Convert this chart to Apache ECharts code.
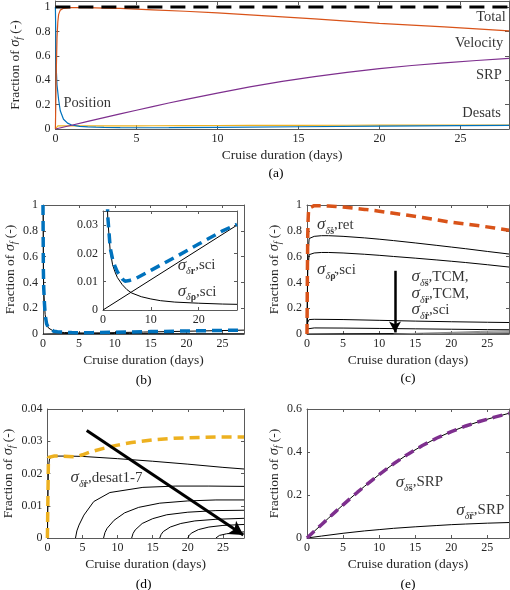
<!DOCTYPE html>
<html><head><meta charset="utf-8">
<script src="https://cdn.jsdelivr.net/npm/echarts/dist/echarts.min.js"></script>
<style>html,body{margin:0;padding:0;background:#fff}#c{width:510px;height:590px}</style>
</head><body><div id="c"></div>
<script>
// ---------- data ----------
const totX = [0, 28];
const totY = [1, 1];
const velX = [0, 0.05, 0.1, 0.15, 0.2, 0.3, 0.5, 1, 2, 3, 4, 5, 6, 8, 10, 12, 14, 16, 18, 20, 22, 24, 26, 28];
const velY = [0, 0.45, 0.75, 0.88, 0.94, 0.975, 0.99, 0.995, 0.995, 0.992, 0.989, 0.984, 0.978, 0.966, 0.952, 0.936, 0.92, 0.903, 0.885, 0.866, 0.852, 0.838, 0.822, 0.805];
const posX = [0, 0.05, 0.1, 0.2, 0.3, 0.5, 0.75, 1, 1.5, 2, 2.5, 3, 4, 4.6, 5.5, 7, 10, 15, 20, 25, 28];
const posY = [1, 0.5, 0.36, 0.24, 0.15, 0.08, 0.048, 0.033, 0.022, 0.018, 0.0155, 0.0135, 0.011, 0.0102, 0.0104, 0.0113, 0.014, 0.0186, 0.0233, 0.028, 0.0303];
const srpX = [0, 1, 2, 3, 4, 5, 6, 7, 8, 9, 10, 12, 14, 16, 18, 20, 22, 24, 26, 28];
const srpY = [0, 0.031, 0.062, 0.093, 0.124, 0.154, 0.184, 0.213, 0.241, 0.268, 0.295, 0.345, 0.39, 0.43, 0.465, 0.495, 0.521, 0.543, 0.562, 0.58];
const desX = [0, 0.15, 0.4, 1, 2, 3, 4, 5, 6, 8, 10, 12, 15, 18, 20, 24, 28];
const desY = [0, 0.025, 0.0253, 0.0254, 0.0254, 0.0253, 0.0252, 0.0258, 0.0266, 0.0278, 0.0288, 0.0296, 0.0304, 0.0309, 0.0311, 0.0313, 0.0313];

// (b) position components
const rhoSciX = [0, 0.05, 0.1, 0.2, 0.3, 0.5, 0.75, 1, 1.5, 2, 2.5, 3, 4, 5, 6, 8, 10, 12, 15, 20, 25, 28];
const rhoSciY = [1, 0.5, 0.36, 0.24, 0.15, 0.08, 0.047, 0.032, 0.021, 0.016, 0.0135, 0.0115, 0.009, 0.0072, 0.006, 0.0047, 0.0039, 0.0033, 0.0028, 0.0024, 0.0021, 0.002];
const rSciX = [0, 14, 28];
const rSciY = [0, 0.015, 0.030];

// (c) velocity components
const cX = [0, 0.1, 0.3, 1, 2, 3, 5, 8, 10, 12, 15, 18, 20, 22, 25, 28];
const retY = [0, 0.6, 0.74, 0.757, 0.762, 0.762, 0.757, 0.745, 0.735, 0.724, 0.706, 0.687, 0.674, 0.661, 0.64, 0.62];
const rhoDotY = [0, 0.5, 0.615, 0.628, 0.632, 0.632, 0.628, 0.618, 0.61, 0.601, 0.588, 0.574, 0.564, 0.554, 0.537, 0.519];
const tcmX = [0, 0.1, 0.3, 1, 5, 10, 15, 20, 25, 28];
const tcm1Y = [0, 0.09, 0.112, 0.114, 0.112, 0.106, 0.1, 0.095, 0.091, 0.089];
const tcm2Y = [0, 0.04, 0.046, 0.047, 0.046, 0.043, 0.04, 0.037, 0.034, 0.033];
const rdSciX = [0, 5, 10, 15, 20, 28];
const rdSciY = [0, 0.002, 0.003, 0.004, 0.005, 0.006];
const g1X = [12, 16, 20, 24, 28], g1Y = [0, 0.006, 0.013, 0.02, 0.027];
const g2X = [16, 20, 24, 28], g2Y = [0, 0.006, 0.012, 0.018];
const g3X = [20, 24, 28], g3Y = [0, 0.005, 0.01];

// (d) desaturation components
const d1X = [0, 0.15, 0.3, 0.6, 1, 3, 5, 10, 15, 20, 25, 28];
const d1Y = [0, 0.022, 0.0245, 0.0252, 0.0254, 0.0254, 0.0253, 0.0246, 0.0238, 0.0229, 0.0219, 0.0214];
const d2X = [4, 4.2, 4.5, 5.2, 6.6, 8.9, 13.6, 18.3, 23, 28];
const d2Y = [0, 0.0022, 0.004, 0.0071, 0.0113, 0.0141, 0.0157, 0.0161, 0.0161, 0.016];
const d3X = [8, 8.2, 8.5, 9.5, 11, 13, 16, 20, 24, 28];
const d3Y = [0, 0.0017, 0.003, 0.0055, 0.0078, 0.0095, 0.0108, 0.0115, 0.0118, 0.0118];
const d4X = [12, 12.2, 12.5, 13.5, 15, 17, 20, 24, 28];
const d4Y = [0, 0.0014, 0.0025, 0.0045, 0.006, 0.0072, 0.008, 0.0085, 0.0086];
const d5X = [16, 16.2, 16.5, 17.5, 19, 21, 24, 28];
const d5Y = [0, 0.0011, 0.002, 0.0034, 0.0045, 0.0053, 0.0058, 0.0061];
const d6X = [20, 20.2, 20.5, 21.5, 23, 25, 28];
const d6Y = [0, 0.0008, 0.0015, 0.0026, 0.0034, 0.0039, 0.0042];
const d7X = [24, 24.2, 24.5, 25.5, 27, 28];
const d7Y = [0, 0.0005, 0.0008, 0.0013, 0.0017, 0.0019];

// (e) SRP components
const rrSrpX = [0, 2, 5, 8, 10, 12, 15, 18, 20, 22, 25, 28];
const rrSrpY = [0, 0.009, 0.022, 0.033, 0.039, 0.045, 0.052, 0.058, 0.062, 0.065, 0.069, 0.072];

// arrows
const arrowCX = [12.2, 12.2], arrowCY = [0.49, 0.012];
const arrowDX = [5.6, 27.9], arrowDY = [0.0333, 0.0009];

const xTitle = 'Cruise duration (days)';
const yTitle = '{a|Fraction of }{i|σ}{f|f}{a| (-)}';

// ---------- chart ----------
const F = 'Liberation Serif';
const LINE = '#5a5a5a', TXT = '#262626';
const BLUE = '#0072BD', ORANGE = '#D95319', YELLOW = '#EDB120', PURPLE = '#7E2F8E';

const grid = [
  {left: 43, top: 1, width: 466, height: 128},
  {left: 43, top: 205, width: 201, height: 129},
  {left: 103, top: 211, width: 134, height: 99, show: true, backgroundColor: '#fff', borderWidth: 0},
  {left: 307, top: 205, width: 202, height: 129},
  {left: 43, top: 409, width: 201, height: 129},
  {left: 307, top: 409, width: 202, height: 129}
];
const xAxis = [], yAxis = [];
const yRich = {
  a: {fontFamily: F, fontSize: 13.5, color: TXT},
  i: {fontFamily: F, fontSize: 14.5, fontStyle: 'italic', color: TXT, lineHeight: 18},
  f: {fontFamily: F, fontSize: 9.5, fontStyle: 'italic', color: TXT, verticalAlign: 'bottom', lineHeight: 8}
};
function addAxes(g, xmax, xint, ymax, yint, o) {
  const tick = {show: true, inside: true, length: o.tick || 3, lineStyle: {color: LINE}};
  const al = {show: true, onZero: false, lineStyle: {color: LINE, width: 1}};
  const lab = {show: true, fontFamily: F, fontSize: 12, color: TXT};
  xAxis.push({gridIndex: g, type: 'value', position: 'bottom', min: 0, max: xmax, interval: xint,
    splitLine: {show: false}, axisLine: al, axisTick: tick, axisLabel: {...lab, margin: 4, showMaxLabel: false},
    name: o.name ? xTitle : '', nameLocation: 'middle', nameGap: 19,
    nameTextStyle: {fontFamily: F, fontSize: 13.5, color: TXT}});
  xAxis.push({gridIndex: g, type: 'value', position: 'top', min: 0, max: xmax, interval: xint,
    splitLine: {show: false}, axisLine: al, axisTick: tick, axisLabel: {show: false}});
  yAxis.push({gridIndex: g, type: 'value', position: 'left', min: 0, max: ymax, interval: yint,
    splitLine: {show: false}, axisLine: al, axisTick: tick,
    axisLabel: {...lab, margin: 5, showMaxLabel: o.hideYMax ? false : null},
    name: o.name ? yTitle : '', nameLocation: 'middle', nameGap: o.yGap || 24,
    nameTextStyle: {rich: yRich}});
  yAxis.push({gridIndex: g, type: 'value', position: 'right', min: 0, max: ymax, interval: yint,
    splitLine: {show: false}, axisLine: al, axisTick: tick, axisLabel: {show: false}});
}
addAxes(0, 28, 5, 1.05, 0.2, {name: true, tick: 4, yGap: 24, hideYMax: true});
addAxes(1, 28, 5, 1, 0.2, {name: true, yGap: 24});
addAxes(2, 28, 10, 0.035, 0.01, {name: false, hideYMax: true});
addAxes(3, 28, 5, 1, 0.2, {name: true, yGap: 20});
addAxes(4, 28, 5, 0.04, 0.01, {name: true, yGap: 29});
addAxes(5, 28, 5, 0.6, 0.2, {name: true, yGap: 24});

const series = [];
function zip(xs, ys) { return xs.map((x, i) => [x, ys[i]]); }
function line(g, xs, ys, color, width, dash, z) {
  series.push({type: 'line', xAxisIndex: 2 * g, yAxisIndex: 2 * g, data: zip(xs, ys),
    showSymbol: false, symbol: 'none', smooth: false, clip: true,
    lineStyle: {color: color, width: width, type: dash || 'solid'}, z: z || 2, silent: true, animation: false});
}
const rich = {
  t: {fontFamily: F, fontSize: 14.5, color: '#000'},
  s: {fontFamily: F, fontSize: 17, fontStyle: 'italic', color: '#000', lineHeight: 22},
  d: {fontFamily: F, fontSize: 10, fontStyle: 'italic', color: '#000', verticalAlign: 'bottom', lineHeight: 8},
  b: {fontFamily: F, fontSize: 10, fontWeight: 'bold', color: '#000', verticalAlign: 'bottom', lineHeight: 8},
  n: {fontFamily: F, fontSize: 15, color: '#000', lineHeight: 22}
};
function txt(g, x, y, fmt, align) {
  series.push({type: 'scatter', xAxisIndex: 2 * g, yAxisIndex: 2 * g, symbol: 'circle', symbolSize: 1,
    silent: true, animation: false, itemStyle: {color: 'rgba(0,0,0,0)'}, z: 10, clip: false,
    label: {show: true, position: 'inside', align: align || 'left', verticalAlign: 'middle',
      formatter: fmt, rich: rich, color: '#000'},
    data: [[x, y]]});
}
function arrow(g, xs, ys, width, size) {
  series.push({type: 'line', xAxisIndex: 2 * g, yAxisIndex: 2 * g, data: [], silent: true, animation: false, z: 8,
    markLine: {silent: true, animation: false, symbol: ['none', 'arrow'], symbolSize: size,
      lineStyle: {color: '#000', width: width, type: 'solid'}, label: {show: false},
      data: [[{coord: [xs[0], ys[0]]}, {coord: [xs[1], ys[1]]}]]}});
}
const DASH = [10, 6];

// (a)
line(0, desX, desY, YELLOW, 1.2);
line(0, posX, posY, BLUE, 1.2);
line(0, srpX, srpY, PURPLE, 1.2);
line(0, velX, velY, ORANGE, 1.2);
line(0, totX, totY, '#000', 3, [15, 8], 4);
txt(0, 27.8, 0.918, '{t|Total}', 'right');
txt(0, 27.65, 0.705, '{t|Velocity}', 'right');
txt(0, 27.55, 0.44, '{t|SRP}', 'right');
txt(0, 27.5, 0.13, '{t|Desats}', 'right');
txt(0, 0.5, 0.21, '{t|Position}', 'left');

// (b)
line(1, rhoSciX, rhoSciY, '#000', 1);
line(1, rSciX, rSciY, '#000', 1);
line(1, posX, posY, BLUE, 3.5, DASH, 3);
// inset
line(2, rhoSciX, rhoSciY, '#000', 1, null, 5);
line(2, rSciX, rSciY, '#000', 1, null, 5);
line(2, posX, posY, BLUE, 3.5, DASH, 6);
txt(2, 15.6, 0.0158, '{s|σ}{d|δ}{b|r}{n|,sci}');
txt(2, 15.6, 0.0065, '{s|σ}{d|δ}{b|ρ}{n|,sci}');

// (c)
line(3, cX, retY, '#000', 1);
line(3, cX, rhoDotY, '#000', 1);
line(3, tcmX, tcm1Y, '#000', 1);
line(3, tcmX, tcm2Y, '#000', 1);
line(3, rdSciX, rdSciY, '#000', 1);
line(3, g1X, g1Y, '#8c8c8c', 1);
line(3, g2X, g2Y, '#8c8c8c', 1);
line(3, g3X, g3Y, '#8c8c8c', 1);
line(3, velX, velY, ORANGE, 3.5, DASH, 4);
arrow(3, arrowCX, arrowCY, 2.5, [9, 11]);
txt(3, 1.4, 0.845, '{s|σ}{d|δ}{b|ṡ}{n|,ret}');
txt(3, 1.4, 0.496, '{s|σ}{d|δ}{b|ρ̇}{n|,sci}');
txt(3, 14.5, 0.442, '{s|σ}{d|δ}{b|s̈}{n|,TCM,}');
txt(3, 14.5, 0.31, '{s|σ}{d|δ}{b|r̈}{n|,TCM,}');
txt(3, 14.5, 0.186, '{s|σ}{d|δ}{b|ṙ}{n|,sci}');

// (d)
line(4, d1X, d1Y, '#000', 1);
line(4, d2X, d2Y, '#000', 1);
line(4, d3X, d3Y, '#000', 1);
line(4, d4X, d4Y, '#000', 1);
line(4, d5X, d5Y, '#000', 1);
line(4, d6X, d6Y, '#000', 1);
line(4, d7X, d7Y, '#000', 1);
line(4, desX, desY, YELLOW, 3.5, DASH, 4);
arrow(4, arrowDX, arrowDY, 3, [12, 14]);
txt(4, 3.3, 0.0186, '{s|σ}{d|δ}{b|ṙ}{n|,desat1-7}');

// (e)
line(5, srpX, srpY, '#000', 1);
line(5, rrSrpX, rrSrpY, '#000', 1);
line(5, srpX, srpY, PURPLE, 3.5, DASH, 4);
txt(5, 12.3, 0.26, '{s|σ}{d|δ}{b|s̈}{n|,SRP}');
txt(5, 20.7, 0.13, '{s|σ}{d|δ}{b|r̈}{n|,SRP}');

function cap(x, y, t) {
  return {type: 'text', x: x, y: y, silent: true,
    style: {text: t, fill: '#000', font: '13.5px "Liberation Serif"', textAlign: 'center', textVerticalAlign: 'middle', align: 'center', verticalAlign: 'middle'}};
}
const chart = echarts.init(document.getElementById('c'), null, {renderer: 'canvas'});
chart.setOption({
  animation: false,
  backgroundColor: '#fff',
  grid: grid, xAxis: xAxis, yAxis: yAxis, series: series,
  graphic: [cap(276, 173, '(a)'), cap(143.5, 380, '(b)'), cap(408, 378, '(c)'), cap(143.5, 584, '(d)'), cap(408, 584, '(e)')]
});
</script></body></html>
